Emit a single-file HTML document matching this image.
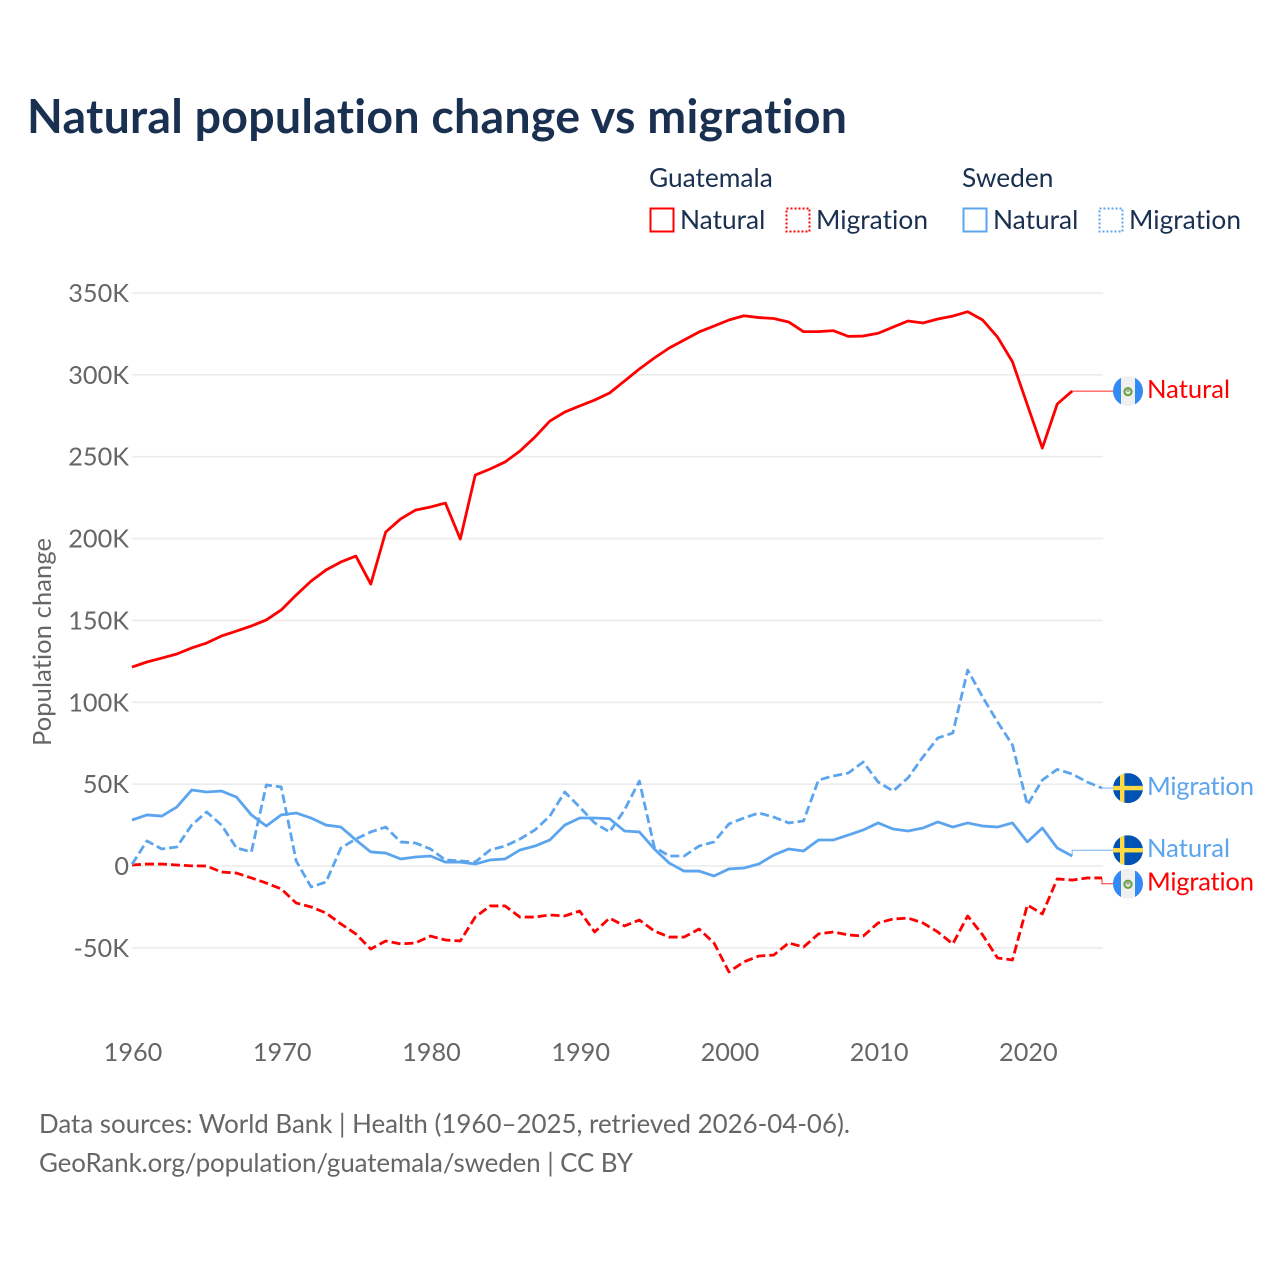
<!DOCTYPE html>
<html lang="en">
<head>
<meta charset="utf-8">
<title>Natural population change vs migration</title>
<style>
  html, body { margin: 0; padding: 0; background: #fff; }
  svg { display: block; }
  text { font-family: "Lato", "Carlito", "Liberation Sans", "DejaVu Sans", sans-serif; font-variant-ligatures: none; font-feature-settings: "liga" 0, "clig" 0; }
</style>
</head>
<body>
<svg id="chart" xmlns="http://www.w3.org/2000/svg" width="1280" height="1280" viewBox="0 0 1280 1280">
  <defs>
    <clipPath id="flag-clip"><circle cx="0" cy="0" r="15"></circle></clipPath>
    <g id="flag-guatemala" clip-path="url(#flag-clip)">
      <rect x="-15" y="-15" width="30" height="30" fill="#f0f0f0"></rect>
      <rect x="-15" y="-15" width="8" height="30" fill="#338af3"></rect>
      <rect x="7" y="-15" width="8" height="30" fill="#338af3"></rect>
      <circle cx="0" cy="0.6" r="3.6" fill="none" stroke="#6da544" stroke-width="2.2"></circle>
      <circle cx="0" cy="-0.4" r="1.6" fill="#a9a9a9"></circle>
    </g>
    <g id="flag-sweden" clip-path="url(#flag-clip)">
      <rect x="-15" y="-15" width="30" height="30" fill="#0052b4"></rect>
      <rect x="-8" y="-15" width="4.4" height="30" fill="#ffda44"></rect>
      <rect x="-15" y="-2.2" width="30" height="4.4" fill="#ffda44"></rect>
    </g>
  </defs>

  <text x="27" y="133" font-size="46.5" font-weight="700" fill="#1a3050" textLength="820" lengthAdjust="spacing">Natural population change vs migration</text>

  <g font-size="26.3" fill="#1a3050">
    <text x="649" y="187">Guatemala</text>
    <text x="962" y="187">Sweden</text>
    <g>
      <rect x="650.5" y="208.5" width="23" height="23" fill="none" stroke="#ff0000" stroke-width="2"></rect>
      <text x="680" y="229">Natural</text>
    </g>
    <g>
      <rect x="786.5" y="208.5" width="23" height="23" fill="none" stroke="#ff0000" stroke-width="2" stroke-dasharray="2 2"></rect>
      <text x="816" y="229" textLength="112" lengthAdjust="spacing">Migration</text>
    </g>
    <g>
      <rect x="963.5" y="208.5" width="23" height="23" fill="none" stroke="#5ca5ee" stroke-width="2"></rect>
      <text x="993" y="229">Natural</text>
    </g>
    <g>
      <rect x="1099.5" y="208.5" width="23" height="23" fill="none" stroke="#5ca5ee" stroke-width="2" stroke-dasharray="2 2"></rect>
      <text x="1129" y="229" textLength="112" lengthAdjust="spacing">Migration</text>
    </g>
  </g>

  <g id="grid"></g>
  <g id="y-axis" font-size="25.3" fill="#666666" text-anchor="end"></g>
  <g id="x-axis" font-size="25.3" fill="#666666" text-anchor="middle"></g>
  <text transform="translate(51,642) rotate(-90)" font-size="25.5" fill="#666666" text-anchor="middle" textLength="208" lengthAdjust="spacing">Population change</text>
  <g id="series"></g>
  <g id="labels"></g>

  <g font-size="25.9" fill="#666666">
    <text x="39" y="1133" textLength="811" lengthAdjust="spacing">Data sources: World Bank | Health (1960–2025, retrieved 2026-04-06).</text>
    <text x="39" y="1172" textLength="594" lengthAdjust="spacing">GeoRank.org/population/guatemala/sweden | CC BY</text>
  </g>
</svg>

<script>
const years = [1960,1961,1962,1963,1964,1965,1966,1967,1968,1969,1970,1971,1972,1973,1974,1975,1976,1977,1978,1979,1980,1981,1982,1983,1984,1985,1986,1987,1988,1989,1990,1991,1992,1993,1994,1995,1996,1997,1998,1999,2000,2001,2002,2003,2004,2005,2006,2007,2008,2009,2010,2011,2012,2013,2014,2015,2016,2017,2018,2019,2020,2021,2022,2023,2024,2025];
const guatemalaNatural = [121.5,124.6,127,129.5,133.2,136.2,140.5,143.5,146.6,150.3,156.4,165.5,174,180.8,185.7,189.3,172.2,204,212,217.4,219.3,221.7,199.7,238.8,242.5,246.8,253.5,262,271.8,277.3,281,284.6,288.9,296.2,303.6,310.3,316.4,321.3,326.2,329.8,333.5,336.1,335,334.4,332.3,326.4,326.4,327,323.5,323.7,325.4,329.2,332.9,331.7,334.1,335.9,338.6,333.5,323.1,308,281.6,255.3,282.2,290.1];
const guatemalaMigration = [0.6,1.2,1.2,0.6,0.1,0,-3.7,-4.3,-7.3,-10.4,-14,-22.6,-25,-28.7,-35.4,-41.5,-50.7,-45.8,-47.6,-47,-42.8,-45.2,-45.8,-31.2,-24.4,-24.4,-31.2,-31.2,-29.9,-30.5,-27.5,-40.3,-31.8,-36.6,-33,-39.7,-43.4,-43.4,-38.5,-47,-64.7,-58.6,-55,-54.4,-47,-49.5,-41.5,-40.3,-42.1,-42.8,-34.8,-32.4,-31.8,-34.8,-40.3,-47.6,-30.5,-42.1,-56.2,-57.4,-23.8,-29.3,-7.9,-8.6,-7.3,-7.3];
const swedenNatural = [28.1,31.2,30.5,36,46.4,45.2,45.8,42.1,31.2,24.4,31.2,32.4,29.3,25,23.8,15.9,8.6,7.9,4.3,5.5,6.1,2.4,2.4,1.2,3.7,4.3,9.8,12.2,15.9,25,29.3,29.3,28.9,21.4,20.8,10.4,1.8,-3.1,-3.1,-6.1,-1.8,-1.2,1.2,6.7,10.4,9.2,15.9,15.9,18.9,22,26.3,22.6,21.4,23.2,26.9,23.8,26.3,24.4,23.8,26.3,14.7,23.2,11,6.1];
const swedenMigration = [1,15.3,10.4,11.6,25,33,25,11,8.6,49.5,48.3,3.1,-12.8,-9.8,11,16.5,20.8,23.8,14.7,14,10.4,3.7,3.1,2.4,9.8,12.2,16.5,22,30.5,45.2,36,26.3,20.8,34.2,51.9,11.6,6.1,6.1,12.2,14.7,25.7,29.3,32.4,29.9,26.3,27.5,52.5,55,56.8,63.5,51.3,45.8,53.8,66.6,78.2,81.2,119.7,103.2,88,73.9,37.3,52.5,59,56.2,51.3,47.6];
const yTickValues = [-50,0,50,100,150,200,250,300,350];
const yTickLabels = ["-50K","0","50K","100K","150K","200K","250K","300K","350K"];
const xTickValues = [1960,1970,1980,1990,2000,2010,2020];
const xTickLabels = ["1960","1970","1980","1990","2000","2010","2020"];

const NS = "http://www.w3.org/2000/svg";
const xScale = year => 132 + (year - 1960) * (970 / 65);
const yScale = value => 866 - value * (573 / 350);
const RED = "#ff0000";
const BLUE = "#5ca5ee";

function make(tag, attrs, parent) {
  const el = document.createElementNS(NS, tag);
  for (const k in attrs) el.setAttribute(k, attrs[k]);
  parent.appendChild(el);
  return el;
}

const gridG = document.getElementById("grid");
const yAxisG = document.getElementById("y-axis");
yTickValues.forEach((v, i) => {
  const line = make("line", { x1: 132, x2: 1103, y1: yScale(v), y2: yScale(v), stroke: "#ececec", "stroke-width": 1.6 }, gridG);
  
  
  const t = make("text", { x: 129, y: yScale(v) + 9 }, yAxisG);
  
  
  t.textContent = yTickLabels[i];
});

const xAxisG = document.getElementById("x-axis");
xTickValues.forEach((v, i) => {
  const t = make("text", { x: xScale(v) + 1, y: 1061 }, xAxisG);
  
  
  t.textContent = xTickLabels[i];
});

const seriesDefs = [
  { key: "guatemala-natural", values: guatemalaNatural, color: RED, dash: null, flag: "flag-guatemala", label: "Natural" },
  { key: "guatemala-migration", values: guatemalaMigration, color: RED, dash: "9 4", flag: "flag-guatemala", label: "Migration" },
  { key: "sweden-natural", values: swedenNatural, color: BLUE, dash: null, flag: "flag-sweden", label: "Natural" },
  { key: "sweden-migration", values: swedenMigration, color: BLUE, dash: "9 4", flag: "flag-sweden", label: "Migration" }
];

const seriesG = document.getElementById("series");
seriesDefs.forEach(s => {
  const d = s.values.map((v, i) => (i ? "L" : "M") + xScale(years[i]).toFixed(2) + " " + yScale(v).toFixed(2)).join(" ");
  const p = make("path", { d: d, fill: "none", stroke: s.color, "stroke-width": 2.8, "stroke-linejoin": "round" }, seriesG);
  if (s.dash) p.setAttribute("stroke-dasharray", s.dash);
  
  
  s.lastX = xScale(years[s.values.length - 1]);
  s.lastY = yScale(s.values[s.values.length - 1]);
  s.labelY = s.lastY;
});

// Push end labels apart so neighbouring flags do not overlap.
const MIN_GAP = 33.5;
const ordered = seriesDefs.slice().sort((a, b) => a.lastY - b.lastY);
for (let pass = 0; pass < 20; pass++) {
  for (let i = 1; i < ordered.length; i++) {
    const overlap = MIN_GAP - (ordered[i].labelY - ordered[i - 1].labelY);
    if (overlap > 0) {
      ordered[i - 1].labelY -= overlap / 2;
      ordered[i].labelY += overlap / 2;
    }
  }
}

const labelsG = document.getElementById("labels");
seriesDefs.forEach(s => {
  const g = make("g", {}, labelsG);
  
  
  const leader = make("path", { d: "M" + s.lastX + " " + s.lastY + " V" + s.labelY + " H1113", fill: "none", stroke: s.color, "stroke-width": 1, opacity: 0.85 }, g);
  
  
  const flag = make("use", { href: "#" + s.flag, transform: "translate(1128," + s.labelY + ")" }, g);
  
  
  const t = make("text", { x: 1147, y: s.labelY + 7, "font-size": 25.6, fill: s.color }, g);
  
  
  if (s.label === "Migration") t.setAttribute("textLength", 107);
  t.textContent = s.label;
});
</script>
</body>
</html>
